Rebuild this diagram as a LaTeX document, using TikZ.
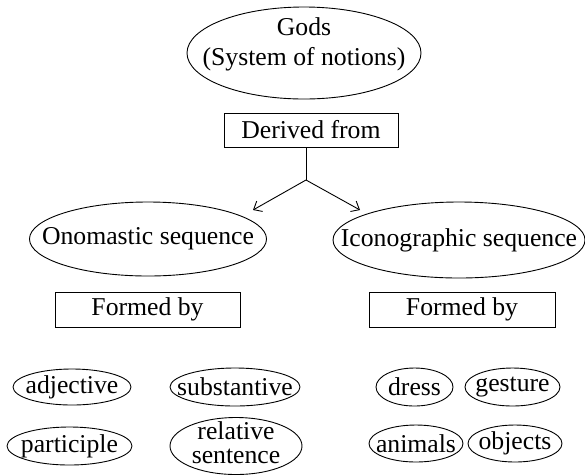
\documentclass[tikz,border=0pt]{standalone}
\usepackage{fontspec}
\setmainfont{Liberation Serif}
\usetikzlibrary{shapes.geometric,arrows.meta}
\newcommand{\zw}[1]{\makebox[0pt]{#1}}
\newcommand{\zwtwo}[2]{\makebox[0pt]{\begin{tabular}{@{}c@{}}#1\\#2\end{tabular}}}
\begin{document}
\begin{tikzpicture}[x=1pt,y=-1pt,
  font=\fontsize{25.7}{29.6}\selectfont,
  ell/.style={ellipse, draw, line width=0.9pt, inner sep=0pt},
  box/.style={rectangle, draw, line width=0.9pt, inner sep=0pt, align=center},
  conn/.style={line width=0.9pt},
  arr/.style={conn, -{Straight Barb[length=7pt,width=12pt]}}]
\useasboundingbox (0,0) rectangle (585,475);
\fill[white] (0,0) rectangle (585,475);
% top
\node[ell, minimum width=234pt, minimum height=92pt] (gods) at (304,53) {\raisebox{2.5pt}[0pt][0pt]{\zwtwo{Gods}{(System of notions)}}};
\node[box, minimum width=174pt, minimum height=34pt] (derived) at (311,130) {Derived from};
\coordinate (split) at (306,180);
\coordinate (ltip) at (253,210);
\coordinate (rtip) at (360,210);
\draw[conn] (derived.south -| split) -- (split);
\draw[arr] (split) -- (ltip);
\draw[arr] (split) -- (rtip);
% sequences
\node[ell, minimum width=237pt, minimum height=74pt] (ono) at (148,239) {\zw{Onomastic sequence}};
\node[ell, minimum width=252pt, minimum height=76pt] (ico) at (459,240) {\zw{Iconographic sequence}};
\node[box, minimum width=185pt, minimum height=35pt] (formL) at (147.5,309.5) {Formed by};
\node[box, minimum width=186pt, minimum height=35pt] (formR) at (462,309.5) {Formed by};
% leaves
\node[ell, minimum width=118pt, minimum height=36pt] (adj) at (72,387) {\zw{adjective}};
\node[ell, minimum width=130pt, minimum height=38pt] (sub) at (235,387) {\zw{substantive}};
\node[ell, minimum width=125pt, minimum height=38pt] (par) at (69.5,446) {\zw{participle}};
\node[ell, minimum width=132pt, minimum height=57pt, inner ysep=-8pt, font=\fontsize{25.7}{23.5}\selectfont] (rel) at (236,446) {\zwtwo{relative}{sentence}};
\node[ell, minimum width=77pt, minimum height=38pt] (dress) at (414.5,387) {\zw{dress}};
\node[ell, minimum width=95pt, minimum height=38pt] (gest) at (512.5,387) {\zw{gesture}};
\node[ell, minimum width=94pt, minimum height=37pt] (anim) at (416,443.5) {\zw{animals}};
\node[ell, minimum width=94pt, minimum height=37pt] (obj) at (515,443.5) {\zw{objects}};
\end{tikzpicture}
\end{document}
